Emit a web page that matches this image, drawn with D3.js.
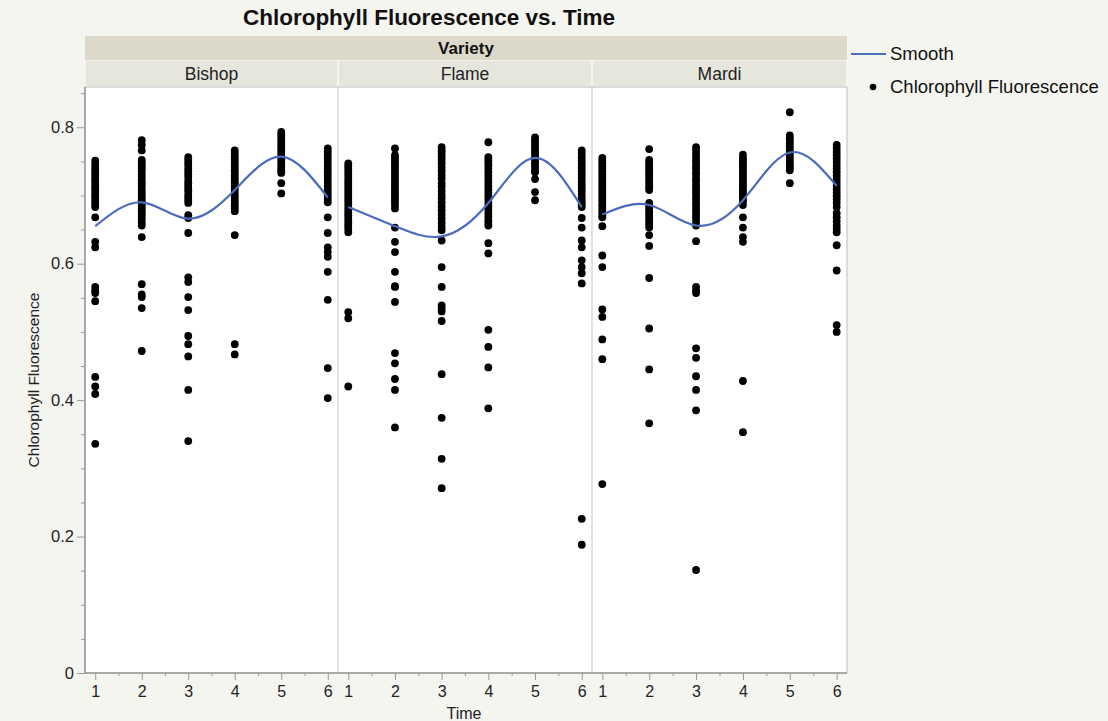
<!DOCTYPE html>
<html><head><meta charset="utf-8">
<script src="https://cdn.jsdelivr.net/npm/d3@7/dist/d3.min.js"></script>
<style>
html,body{margin:0;padding:0;background:#f5f5f0;}
text{font-family:"Liberation Sans",Arial,Helvetica,sans-serif;}
</style></head><body>
<svg id="chart" width="1108" height="721"></svg>
<script>
const varieties = ["Bishop", "Flame", "Mardi"];
const times = [1, 2, 3, 4, 5, 6];
const yTicks = [0, 0.2, 0.4, 0.6, 0.8];

const bishop = [
  [0.751,0.746,0.742,0.738,0.735,0.731,0.727,0.723,0.72,0.716,0.712,0.709,0.705,0.701,0.698,0.694,0.69,0.686,0.683,0.668,0.632,0.624,0.566,0.561,0.557,0.545,0.434,0.42,0.409,0.336],
  [0.781,0.774,0.766,0.752,0.748,0.744,0.74,0.736,0.731,0.727,0.722,0.718,0.714,0.709,0.705,0.701,0.697,0.693,0.689,0.685,0.681,0.677,0.673,0.669,0.665,0.66,0.656,0.639,0.57,0.555,0.551,0.535,0.472],
  [0.756,0.752,0.748,0.744,0.739,0.735,0.731,0.727,0.722,0.718,0.714,0.71,0.706,0.701,0.697,0.693,0.689,0.671,0.667,0.645,0.58,0.573,0.551,0.532,0.494,0.482,0.464,0.415,0.34],
  [0.766,0.761,0.757,0.753,0.749,0.745,0.741,0.737,0.733,0.729,0.725,0.721,0.717,0.713,0.709,0.705,0.701,0.697,0.693,0.689,0.685,0.681,0.677,0.642,0.482,0.467],
  [0.793,0.789,0.785,0.781,0.777,0.773,0.769,0.765,0.761,0.757,0.753,0.749,0.745,0.741,0.737,0.733,0.718,0.703],
  [0.769,0.764,0.759,0.754,0.749,0.744,0.739,0.734,0.729,0.724,0.719,0.714,0.709,0.704,0.699,0.694,0.69,0.668,0.645,0.624,0.617,0.61,0.588,0.547,0.447,0.403]
];
const flame = [
  [0.747,0.743,0.739,0.735,0.731,0.727,0.723,0.719,0.715,0.711,0.707,0.703,0.699,0.695,0.691,0.687,0.683,0.679,0.675,0.671,0.667,0.663,0.659,0.655,0.651,0.646,0.529,0.52,0.42],
  [0.769,0.759,0.755,0.751,0.747,0.743,0.739,0.735,0.731,0.727,0.723,0.719,0.715,0.711,0.707,0.703,0.699,0.695,0.691,0.686,0.681,0.653,0.632,0.617,0.588,0.567,0.566,0.544,0.469,0.454,0.431,0.415,0.36],
  [0.771,0.766,0.762,0.757,0.752,0.747,0.741,0.736,0.73,0.725,0.718,0.713,0.707,0.701,0.696,0.69,0.684,0.678,0.672,0.666,0.66,0.654,0.649,0.634,0.595,0.566,0.539,0.535,0.53,0.516,0.438,0.374,0.314,0.271],
  [0.778,0.756,0.752,0.748,0.744,0.739,0.734,0.729,0.724,0.719,0.714,0.709,0.704,0.699,0.694,0.689,0.684,0.679,0.674,0.669,0.664,0.66,0.656,0.63,0.615,0.503,0.478,0.448,0.388],
  [0.785,0.781,0.777,0.773,0.769,0.765,0.761,0.757,0.753,0.749,0.745,0.741,0.737,0.734,0.724,0.705,0.693],
  [0.766,0.761,0.756,0.751,0.746,0.741,0.736,0.731,0.726,0.721,0.716,0.711,0.706,0.701,0.696,0.691,0.687,0.683,0.667,0.653,0.634,0.624,0.605,0.595,0.586,0.571,0.226,0.188]
];
const mardi = [
  [0.755,0.751,0.747,0.743,0.739,0.735,0.731,0.727,0.723,0.719,0.715,0.711,0.707,0.703,0.699,0.695,0.691,0.687,0.683,0.679,0.675,0.671,0.668,0.655,0.612,0.595,0.533,0.522,0.489,0.46,0.277],
  [0.768,0.752,0.748,0.744,0.74,0.736,0.732,0.728,0.724,0.72,0.716,0.712,0.708,0.689,0.685,0.681,0.677,0.673,0.669,0.665,0.661,0.657,0.653,0.642,0.626,0.579,0.505,0.445,0.366],
  [0.771,0.766,0.761,0.757,0.752,0.748,0.743,0.739,0.734,0.73,0.725,0.721,0.716,0.712,0.707,0.703,0.698,0.694,0.689,0.685,0.68,0.676,0.671,0.667,0.662,0.656,0.633,0.566,0.561,0.557,0.476,0.462,0.435,0.415,0.385,0.151],
  [0.76,0.755,0.751,0.747,0.743,0.739,0.735,0.731,0.727,0.723,0.719,0.715,0.711,0.707,0.703,0.699,0.695,0.691,0.686,0.668,0.653,0.639,0.632,0.428,0.353],
  [0.822,0.788,0.784,0.78,0.776,0.772,0.768,0.764,0.76,0.756,0.752,0.748,0.744,0.741,0.737,0.718],
  [0.774,0.769,0.764,0.759,0.754,0.749,0.744,0.739,0.734,0.729,0.724,0.719,0.714,0.709,0.704,0.699,0.694,0.689,0.683,0.674,0.668,0.662,0.656,0.651,0.646,0.627,0.59,0.51,0.5]
];
const smoothBishop = [0.655, 0.690, 0.666, 0.708, 0.757, 0.697];
const smoothFlame  = [0.683, 0.655, 0.640, 0.689, 0.755, 0.683];
const smoothMardi  = [0.672, 0.686, 0.656, 0.693, 0.763, 0.714];

const pointsByVariety = [bishop, flame, mardi];
const smoothByVariety = [smoothBishop, smoothFlame, smoothMardi];

const svg = d3.select("#chart");
const W = 1108, H = 721;
const plotL = 85, plotR = 847, plotT = 87, plotB = 673;
const panelEdges = [85, 338, 592, 847];
const FONT = "Liberation Sans, Arial, sans-serif";

svg.append("rect").attr("width", W).attr("height", H).attr("fill", "#f5f5f0");

const y = d3.scaleLinear().domain([0, 0.859]).range([plotB, plotT]);

// Title
svg.append("text").attr("x", 429).attr("y", 25).attr("text-anchor", "middle")
  .attr("font-size", 22.5).attr("font-weight", "bold").attr("fill", "#111")
  .text("Chlorophyll Fluorescence vs. Time");

// Variety header band
svg.append("rect").attr("x", plotL).attr("y", 36).attr("width", plotR - plotL).attr("height", 24)
  .attr("fill", "#dcd9cb");
svg.append("text").attr("x", (plotL + plotR) / 2).attr("y", 54).attr("text-anchor", "middle")
  .attr("font-size", 17).attr("font-weight", "bold").attr("fill", "#111").text("Variety");

// plot background
svg.append("rect").attr("x", plotL).attr("y", plotT).attr("width", plotR - plotL).attr("height", plotB - plotT)
  .attr("fill", "#ffffff");

varieties.forEach((v, i) => {
  const x0 = panelEdges[i], x1 = panelEdges[i + 1];
  // panel header
  svg.append("rect").attr("x", x0 + 1).attr("y", 61).attr("width", x1 - x0 - 2).attr("height", 25)
    .attr("fill", "#e7e6dd");
  svg.append("text").attr("x", (x0 + x1) / 2).attr("y", 80).attr("text-anchor", "middle")
    .attr("font-size", 17.5).attr("fill", "#222").text(v);

  const x = d3.scaleLinear().domain([0.78, 6.22]).range([x0, x1]);
  const g = svg.append("g");

  // points
  const pts = [];
  pointsByVariety[i].forEach((arr, ti) => arr.forEach(val => pts.push({t: times[ti], v: val})));
  g.selectAll("circle").data(pts).enter().append("circle")
    .attr("cx", d => x(d.t)).attr("cy", d => y(d.v)).attr("r", 3.9).attr("fill", "#000");

  // smooth
  const line = d3.line().x((d, k) => x(times[k])).y(d => y(d)).curve(d3.curveNatural);
  g.append("path").datum(smoothByVariety[i]).attr("d", line)
    .attr("fill", "none").attr("stroke", "#4a6cbd").attr("stroke-width", 2.2);

  // x axis
  const ax = svg.append("g").attr("transform", `translate(0,${plotB})`)
    .call(d3.axisBottom(x).tickValues(times).tickFormat(d3.format("d")).tickSize(7).tickPadding(6));
  ax.select(".domain").remove();
  ax.selectAll("line").attr("stroke", "#999");
  ax.selectAll("text").attr("font-size", 16).attr("fill", "#222").attr("font-family", FONT);
  const mx = svg.append("g").attr("transform", `translate(0,${plotB})`)
    .call(d3.axisBottom(x).tickValues([1.5, 2.5, 3.5, 4.5, 5.5]).tickFormat("").tickSize(3));
  mx.select(".domain").remove();
  mx.selectAll("line").attr("stroke", "#999");

  // separators
  if (i > 0) {
    svg.append("line").attr("x1", x0).attr("x2", x0).attr("y1", plotT).attr("y2", plotB)
      .attr("stroke", "#d0d0d0").attr("stroke-width", 1.2);
    svg.append("line").attr("x1", x0).attr("x2", x0).attr("y1", 61).attr("y2", 86)
      .attr("stroke", "#f5f5f0").attr("stroke-width", 2);
  }
});

// plot border
svg.append("rect").attr("x", plotL).attr("y", plotT).attr("width", plotR - plotL).attr("height", plotB - plotT)
  .attr("fill", "none").attr("stroke", "#bdbdbd").attr("stroke-width", 1);
svg.append("line").attr("x1", plotL).attr("x2", plotR).attr("y1", plotB).attr("y2", plotB)
  .attr("stroke", "#999").attr("stroke-width", 1.5);
svg.append("line").attr("x1", plotL).attr("x2", plotL).attr("y1", plotT).attr("y2", plotB)
  .attr("stroke", "#999").attr("stroke-width", 1.5);

// y axis
const ay = svg.append("g").attr("transform", `translate(${plotL},0)`)
  .call(d3.axisLeft(y).tickValues(yTicks).tickFormat(d => d === 0 ? "0" : d3.format(".1f")(d)).tickSize(8).tickPadding(3));
ay.select(".domain").remove();
ay.selectAll("line").attr("stroke", "#999");
ay.selectAll("text").attr("font-size", 16.5).attr("fill", "#222").attr("font-family", FONT);
const minorY = d3.range(1, 18).map(k => k * 0.05).filter(v => Math.abs(v * 5 - Math.round(v * 5)) > 1e-6);
const my = svg.append("g").attr("transform", `translate(${plotL},0)`)
  .call(d3.axisLeft(y).tickValues(minorY).tickFormat("").tickSize(4));
my.select(".domain").remove();
my.selectAll("line").attr("stroke", "#999");

// axis titles
svg.append("text").attr("transform", "translate(39,380) rotate(-90)").attr("text-anchor", "middle")
  .attr("font-size", 15.5).attr("fill", "#222").text("Chlorophyll Fluorescence");
svg.append("text").attr("x", 464).attr("y", 719).attr("text-anchor", "middle")
  .attr("font-size", 16).attr("fill", "#222").text("Time");

// legend
svg.append("line").attr("x1", 851).attr("x2", 886).attr("y1", 54).attr("y2", 54)
  .attr("stroke", "#4a6cbd").attr("stroke-width", 2.2);
svg.append("text").attr("x", 890).attr("y", 60).attr("font-size", 18.5).attr("fill", "#111").text("Smooth");
svg.append("circle").attr("cx", 873).attr("cy", 87).attr("r", 3.3).attr("fill", "#000");
svg.append("text").attr("x", 890).attr("y", 93).attr("font-size", 18.5).attr("fill", "#111").text("Chlorophyll Fluorescence");
</script>
</body></html>
